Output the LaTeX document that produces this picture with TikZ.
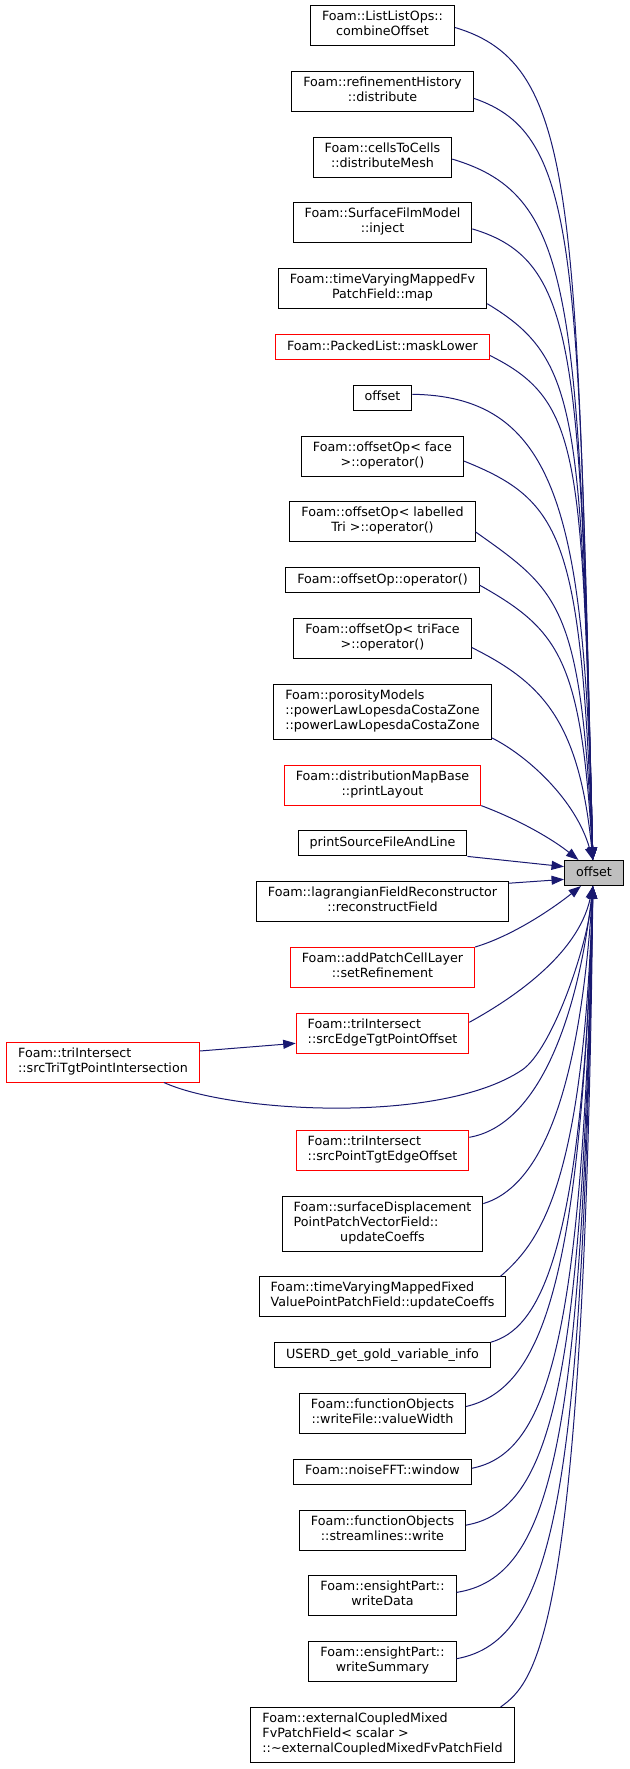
\documentclass[tikz,border=0pt]{standalone}
\usepackage{fontspec}
\newfontfamily\dejavu{DejaVu Sans}
\usetikzlibrary{positioning, arrows.meta}
\definecolor{edgeblue}{HTML}{191970}
\definecolor{targetgray}{HTML}{BFBFBF}

\begin{document}
\begin{tikzpicture}[
    x=1pt, y=-1pt,
    node distance=24.8pt,
    fn/.style={draw=black, line width=1pt, fill=white, inner xsep=11.5pt, inner ysep=3pt, minimum height=25pt, align=center, font=\dejavu\fontsize{12.7}{15}\selectfont, execute at begin node=\strut, execute at end node=\strut},
    fnred/.style={fn, draw=red},
    two/.style={minimum height=40pt},
    three/.style={minimum height=55pt},
    target/.style={fn, fill=targetgray},
    arr/.style={-{Triangle[length=12.5pt, width=9pt]}, draw=edgeblue, line width=1pt}
]
\useasboundingbox (0,0) rectangle (629,1769);

\node[fn, two] (combine) at (382.5,25.5) {Foam::ListListOps::\\combineOffset};
\node[fn, two, below=of combine] (distribute) {Foam::refinementHistory\\::distribute};
\node[fn, two, below=of distribute] (mesh) {Foam::cellsToCells\\::distributeMesh};
\node[fn, two, below=of mesh] (inject) {Foam::SurfaceFilmModel\\::inject};
\node[fn, two, below=of inject] (fvmap) {Foam::timeVaryingMappedFv\\PatchField::map};
\node[fnred, below=of fvmap] (mask) {Foam::PackedList::maskLower};
\node[fn, below=of mask] (offsetFn) {offset};
\node[fn, two, below=of offsetFn] (opFace) {Foam::offsetOp< face\\>::operator()};
\node[fn, two, below=of opFace] (opLabelled) {Foam::offsetOp< labelled\\Tri >::operator()};
\node[fn, below=of opLabelled] (opPlain) {Foam::offsetOp::operator()};
\node[fn, two, below=of opPlain] (opTriFace) {Foam::offsetOp< triFace\\>::operator()};
\node[fn, three, align=left, below=of opTriFace] (porosity) {Foam::porosityModels\\::powerLawLopesdaCostaZone\\::powerLawLopesdaCostaZone};
\node[fnred, two, below=of porosity] (layout) {Foam::distributionMapBase\\::printLayout};
\node[fn, below=of layout] (source) {printSourceFileAndLine};
\node[fn, two, below=of source] (lagrangian) {Foam::lagrangianFieldReconstructor\\::reconstructField};
\node[fnred, two, below=of lagrangian] (addPatch) {Foam::addPatchCellLayer\\::setRefinement};
\node[fnred, two, align=left, below=of addPatch] (srcEdge) {Foam::triIntersect\\::srcEdgeTgtPointOffset};
\node[fnred, two, align=left, below=76pt of srcEdge] (srcPoint) {Foam::triIntersect\\::srcPointTgtEdgeOffset};
\node[fn, three, below=of srcPoint] (surfDisp) {\begin{tabular}[b]{@{}l@{}}Foam::surfaceDisplacement\\PointPatchVectorField::\end{tabular}\\updateCoeffs};
\node[fn, two, align=left, below=of surfDisp] (timeFixed) {Foam::timeVaryingMappedFixed\\ValuePointPatchField::updateCoeffs};
\node[fn, below=of timeFixed] (userd) {USERD\_get\_gold\_variable\_info};
\node[fn, two, below=of userd] (valueWidth) {Foam::functionObjects\\::writeFile::valueWidth};
\node[fn, below=of valueWidth] (noise) {Foam::noiseFFT::window};
\node[fn, two, below=of noise] (streamlines) {Foam::functionObjects\\::streamlines::write};
\node[fn, two, below=of streamlines] (writeData) {Foam::ensightPart::\\writeData};
\node[fn, two, below=of writeData] (writeSummary) {Foam::ensightPart::\\writeSummary};
\node[fn, three, align=left, below=of writeSummary] (extCoupled) {Foam::externalCoupledMixed\\FvPatchField< scalar >\\::\textasciitilde externalCoupledMixedFvPatchField};

\node[fnred, two, align=left] (srcTri) at (103,1062) {Foam::triIntersect\\::srcTriTgtPointIntersection};
\node[target] (offset) at (594,873) {offset};

% callers above the target
\draw[arr] ([yshift=-2pt]combine.east) .. controls +(124,37) and +(-17,-660) .. (offset.95);
\draw[arr] ([yshift=-7pt]distribute.east) .. controls +(106,36) and +(-15,-610) .. (offset.95);
\draw[arr] ([yshift=-2pt]mesh.east) .. controls +(124,37) and +(-14,-562) .. (offset.95);
\draw[arr] ([yshift=-6pt]inject.east) .. controls +(107,32) and +(-13,-506) .. (offset.95);
\draw[arr] ([yshift=-15pt]fvmap.east) .. controls +(93,56) and +(-12,-446) .. (offset.95);
\draw[arr] ([yshift=-8.5pt]mask.east) .. controls +(92,46) and +(-11,-405) .. (offset.95);
\draw[arr] ([yshift=3.5pt]offsetFn.east) .. controls +(148,2) and +(-8,-340) .. (offset.95);
\draw[arr] ([yshift=-5pt]opFace.east) .. controls +(100,40) and +(-12,-320) .. (offset.95);
\draw[arr] ([yshift=-10pt]opLabelled.east) .. controls +(85,60) and +(-12,-254) .. (offset.95);
\draw[arr] ([yshift=-5pt]opPlain.east) .. controls +(80,45) and +(-12,-200) .. (offset.95);
\draw[arr] ([yshift=-9pt]opTriFace.east) .. controls +(70,35) and +(-14,-140) .. (offset.95);
\draw[arr] ([yshift=2pt]porosity.south east) .. controls +(36,18) and +(-17,-60) .. (offset.95);
\draw[arr] (layout.south east) .. controls +(40,15) and +(-25,-20) .. (offset.140);
\draw[arr] (source.south east) -- (offset.168);
\draw[arr] ([yshift=-2pt]lagrangian.north east) -- (offset.192);
\draw[arr] (addPatch.north east) .. controls +(40,-12) and +(-25,20) .. (offset.225);

% callers below the target
\draw[arr] ([yshift=11pt]srcEdge.east) .. controls +(40,-22) and +(-15,70) .. (offset.265);
\draw[arr] ([xshift=61pt]srcTri.south) .. controls +(65,30) and +(-82,55) .. (522,1070) .. controls +(30,-20) and +(-5,60) .. (offset.265);
\draw[arr] ([yshift=11pt]srcTri.east) -- ([yshift=-10pt]srcEdge.west);
\draw[arr] ([yshift=13pt]srcPoint.east) .. controls +(70,-12) and +(-15,130) .. (offset.265);
\draw[arr] ([yshift=20pt]surfDisp.east) .. controls +(60,-18) and +(-13,200) .. (offset.265);
\draw[arr] ([xshift=-6pt]timeFixed.north east) .. controls +(40,-35) and +(-10,300) .. (offset.265);
\draw[arr] (userd.north east) .. controls +(45,-13) and +(-10,380) .. (offset.265);
\draw[arr] ([yshift=7pt]valueWidth.east) .. controls +(75,-18) and +(-12,400) .. (offset.265);
\draw[arr] ([yshift=3.5pt]noise.east) .. controls +(75,-15) and +(-10,460) .. (offset.265);
\draw[arr] ([yshift=5pt]streamlines.east) .. controls +(85,-15) and +(-10,500) .. (offset.265);
\draw[arr] ([yshift=3.5pt]writeData.east) .. controls +(95,-15) and +(-10,560) .. (offset.265);
\draw[arr] ([yshift=3pt]writeSummary.east) .. controls +(100,-18) and +(-10,600) .. (offset.265);
\draw[arr] ([xshift=-14pt]extCoupled.north east) .. controls +(35,-25) and +(-8,750) .. (offset.265);
\end{tikzpicture}
\end{document}
